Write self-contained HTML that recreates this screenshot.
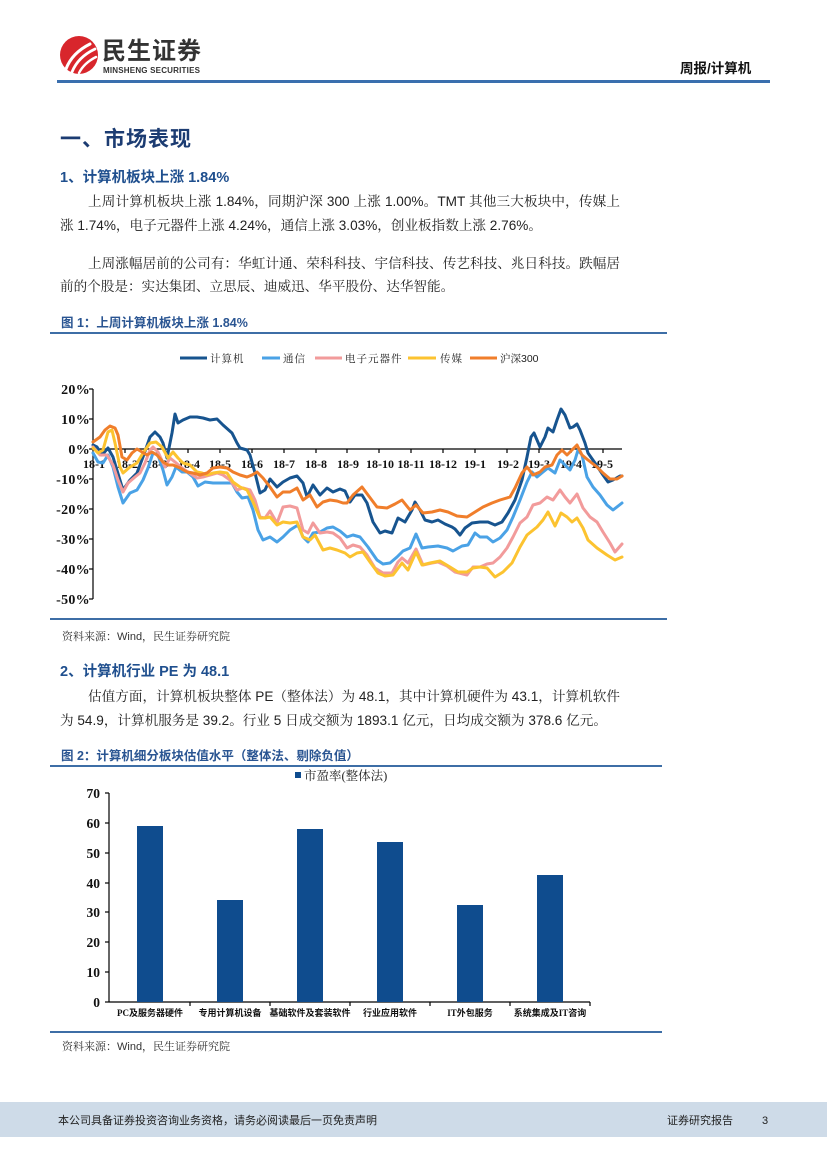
<!DOCTYPE html>
<html><head><meta charset="utf-8">
<style>
html,body{margin:0;padding:0;background:#fff;}
#pg{position:relative;width:827px;height:1169px;overflow:hidden;background:#fff;}
.t{position:absolute;white-space:nowrap;}
.body{font-family:"Liberation Sans","Noto Serif CJK SC",serif;font-size:13.6px;color:#222;line-height:20px;}
.just{text-align:justify;text-align-last:justify;white-space:normal;overflow:hidden;height:20px;}
.h{font-family:"Liberation Sans","Noto Sans CJK SC",sans-serif;font-weight:bold;}
.src{font-family:"Liberation Sans","Noto Serif CJK SC",serif;font-size:11px;color:#333;line-height:14px;}
</style></head><body>
<div id="pg">
<svg width="827" height="1169" viewBox="0 0 827 1169" style="position:absolute;left:0;top:0">
  <!-- header -->
  <circle cx="79" cy="55" r="19" fill="#d8262c"/>
  <path d="M66,69 Q72,53 90,44" stroke="#fff" stroke-width="3" fill="none" stroke-linecap="round"/>
  <path d="M72,72 Q78,57 95,49" stroke="#fff" stroke-width="2.8" fill="none" stroke-linecap="round"/>
  <path d="M79,73 Q84,63 96,57" stroke="#fff" stroke-width="2.4" fill="none" stroke-linecap="round"/>
  <rect x="57" y="80" width="713" height="3" fill="#3a6fae"/>

  <!-- chart1 separators -->
  <rect x="50" y="332" width="617" height="2" fill="#3d6ea6"/>
  <rect x="50" y="618" width="617" height="2" fill="#3d6ea6"/>
  <!-- chart2 separators -->
  <rect x="50" y="765" width="612" height="2" fill="#3d6ea6"/>
  <rect x="50" y="1031" width="612" height="2" fill="#3d6ea6"/>

  <!-- chart1 legend -->
  <g font-family="Liberation Sans, Noto Serif CJK SC, serif" font-size="10.5" fill="#222" letter-spacing="1">
    <line x1="180" y1="358" x2="207" y2="358" stroke="#17548f" stroke-width="3"/>
    <text x="210" y="362">计算机</text>
    <line x1="262" y1="358" x2="280" y2="358" stroke="#4aa2e6" stroke-width="3"/>
    <text x="283" y="362">通信</text>
    <line x1="315" y1="358" x2="342" y2="358" stroke="#f29b9b" stroke-width="3"/>
    <text x="345" y="362">电子元器件</text>
    <line x1="408" y1="358" x2="436" y2="358" stroke="#fcc330" stroke-width="3"/>
    <text x="440" y="362">传媒</text>
    <line x1="470" y1="358" x2="497" y2="358" stroke="#f07e2b" stroke-width="3"/>
    <text x="500" y="362" letter-spacing="0">沪深300</text>
  </g>

  <!-- chart1 axes -->
  <g stroke="#000" stroke-width="1.2">
    <line x1="93" y1="389" x2="93" y2="599"/>
    <line x1="89" y1="389" x2="93" y2="389"/>
    <line x1="89" y1="419" x2="93" y2="419"/>
    <line x1="89" y1="449" x2="93" y2="449"/>
    <line x1="89" y1="479" x2="93" y2="479"/>
    <line x1="89" y1="509" x2="93" y2="509"/>
    <line x1="89" y1="539" x2="93" y2="539"/>
    <line x1="89" y1="569" x2="93" y2="569"/>
    <line x1="89" y1="599" x2="93" y2="599"/>
    <line x1="93" y1="449" x2="622" y2="449"/>
    <line x1="125" y1="449" x2="125" y2="453"/><line x1="157" y1="449" x2="157" y2="453"/>
    <line x1="188" y1="449" x2="188" y2="453"/><line x1="220" y1="449" x2="220" y2="453"/>
    <line x1="252" y1="449" x2="252" y2="453"/><line x1="284" y1="449" x2="284" y2="453"/>
    <line x1="316" y1="449" x2="316" y2="453"/><line x1="347" y1="449" x2="347" y2="453"/>
    <line x1="379" y1="449" x2="379" y2="453"/><line x1="411" y1="449" x2="411" y2="453"/>
    <line x1="443" y1="449" x2="443" y2="453"/><line x1="475" y1="449" x2="475" y2="453"/>
    <line x1="507" y1="449" x2="507" y2="453"/><line x1="539" y1="449" x2="539" y2="453"/>
    <line x1="571" y1="449" x2="571" y2="453"/><line x1="603" y1="449" x2="603" y2="453"/>
  </g>
  <g font-family="Liberation Serif, serif" font-weight="bold" font-size="14" fill="#111" text-anchor="end" letter-spacing="0.3">
    <text x="90" y="394">20%</text>
    <text x="90" y="424">10%</text>
    <text x="90" y="454">0%</text>
    <text x="90" y="484">-10%</text>
    <text x="90" y="514">-20%</text>
    <text x="90" y="544">-30%</text>
    <text x="90" y="574">-40%</text>
    <text x="90" y="604">-50%</text>
  </g>
  <g font-family="Liberation Serif, serif" font-weight="bold" font-size="12" fill="#111" text-anchor="middle">
    <text x="94" y="468">18-1</text><text x="127" y="468">18-2</text><text x="157" y="468">18-3</text>
    <text x="189" y="468">18-4</text><text x="220" y="468">18-5</text><text x="252" y="468">18-6</text>
    <text x="284" y="468">18-7</text><text x="316" y="468">18-8</text><text x="348" y="468">18-9</text>
    <text x="380" y="468">18-10</text><text x="411" y="468">18-11</text><text x="443" y="468">18-12</text>
    <text x="475" y="468">19-1</text><text x="508" y="468">19-2</text><text x="539" y="468">19-3</text>
    <text x="571" y="468">19-4</text><text x="602" y="468">19-5</text>
  </g>

  <!-- chart1 series -->
  <g fill="none" stroke-width="3" stroke-linejoin="round" stroke-linecap="round">
    <polyline stroke="#17548f" points="93,445 97,447 102,455 108,448 113,457 123,490 130,480 137,473 143,457 150,437 155,432 160,437 163,443 167,458 172,433 175,414 178,423 183,420 190,417 197,417 203,418 210,420 217,419 223,425 232,433 237,443 240,448 247,450 250,455 255,473 260,493 265,490 270,479 277,487 283,482 290,478 297,476 303,483 307,497 313,485 320,495 327,488 333,492 340,489 345,491 350,502 355,495 362,495 367,503 373,522 380,533 385,531 392,533 398,518 405,522 412,510 415,502 420,510 425,520 432,522 438,520 445,524 452,527 455,529 460,535 465,528 472,523 480,522 488,522 495,525 502,522 508,513 515,500 522,480 527,457 531,437 534,433 540,447 545,437 548,428 553,432 557,420 561,409 565,415 570,428 573,427 577,424 580,430 585,443 588,453 595,463 603,475 608,482 613,480 620,476 622,476"/>
    <polyline stroke="#4aa2e6" points="93,453 98,462 103,463 108,455 113,467 118,487 123,503 130,493 137,490 143,480 148,468 153,453 158,455 163,470 167,485 172,477 176,467 182,472 187,472 193,477 198,486 205,482 213,483 223,483 232,483 237,492 242,498 248,497 253,510 258,530 263,540 270,537 277,542 283,537 290,530 298,525 303,537 308,542 313,533 320,532 327,528 333,527 340,531 347,537 353,535 360,537 368,547 377,560 383,564 390,563 397,557 403,551 410,548 416,534 422,548 428,547 438,546 447,548 453,551 462,546 468,545 475,533 480,537 487,537 493,542 500,538 507,530 513,517 520,500 527,482 532,472 537,477 543,472 548,468 555,473 560,460 563,463 570,470 575,460 578,450 582,455 587,477 593,487 600,495 607,505 613,510 622,503"/>
    <polyline stroke="#f29b9b" points="93,447 100,455 107,455 113,465 118,480 123,492 128,483 135,477 140,473 145,463 150,450 153,447 158,452 165,467 170,458 175,462 182,468 188,472 197,478 203,477 210,475 217,473 223,475 230,480 237,490 243,488 250,490 255,500 260,517 265,518 270,511 277,523 283,507 290,506 297,508 303,530 308,533 313,523 320,533 327,532 333,533 340,538 347,548 353,545 360,547 367,555 375,568 383,573 392,573 398,562 402,558 408,563 416,549 423,565 432,563 438,562 447,566 455,572 467,575 473,567 480,567 487,564 493,563 500,557 507,548 513,537 520,523 527,517 533,505 540,503 547,497 553,500 560,490 565,497 570,503 577,494 583,508 590,517 597,522 603,532 610,543 615,552 622,544"/>
    <polyline stroke="#fcc330" points="93,448 98,453 103,450 108,432 112,430 115,443 120,467 123,473 130,467 137,463 143,453 150,443 156,442 162,447 168,458 173,452 178,458 183,463 190,465 197,472 202,473 207,475 213,473 220,472 227,473 233,482 240,487 247,490 253,502 260,518 265,518 270,517 277,525 283,522 290,523 297,522 303,537 310,540 315,535 323,550 330,548 337,550 345,553 350,557 357,553 363,552 370,562 378,573 385,576 393,575 402,563 408,570 416,552 422,565 430,563 440,561 450,567 458,572 467,572 473,568 480,567 487,568 495,577 503,572 512,563 520,547 527,535 537,527 543,520 548,512 555,526 561,513 567,517 572,522 577,518 583,528 588,540 597,548 607,555 615,560 622,557"/>
    <polyline stroke="#f07e2b" points="93,442 100,437 105,430 110,426 115,428 118,435 122,457 127,460 132,453 137,449 142,452 147,455 152,452 157,455 163,462 168,465 173,465 180,468 187,472 193,473 200,475 207,473 213,468 220,467 227,468 233,472 240,475 247,477 252,475 257,472 263,478 270,487 277,497 283,492 290,492 297,488 303,500 310,495 317,507 323,502 330,500 337,501 343,503 347,503 353,495 362,487 368,495 377,507 387,508 395,504 402,500 410,510 416,505 423,513 432,512 440,510 448,512 457,516 467,517 475,512 483,507 492,503 500,500 510,497 515,488 522,473 527,467 533,475 540,472 545,467 552,465 557,455 562,450 567,455 572,450 577,445 582,455 588,460 597,467 603,473 610,479 617,479 622,476"/>
  </g>

  <!-- chart2 legend -->
  <rect x="295" y="772" width="6" height="6" fill="#0f4c8e"/>
  <text x="304" y="780" font-family="Liberation Serif, Noto Serif CJK SC, serif" font-size="12.5" fill="#222">市盈率(整体法)</text>

  <!-- chart2 axes -->
  <g stroke="#000" stroke-width="1.2">
    <line x1="109" y1="793" x2="109" y2="1002"/>
    <line x1="105" y1="793" x2="109" y2="793"/>
    <line x1="105" y1="823" x2="109" y2="823"/>
    <line x1="105" y1="853" x2="109" y2="853"/>
    <line x1="105" y1="883" x2="109" y2="883"/>
    <line x1="105" y1="912" x2="109" y2="912"/>
    <line x1="105" y1="942" x2="109" y2="942"/>
    <line x1="105" y1="972" x2="109" y2="972"/>
    <line x1="105" y1="1002" x2="109" y2="1002"/>
    <line x1="109" y1="1002" x2="590" y2="1002"/>
    <line x1="190" y1="1002" x2="190" y2="1006"/><line x1="270" y1="1002" x2="270" y2="1006"/>
    <line x1="350" y1="1002" x2="350" y2="1006"/><line x1="430" y1="1002" x2="430" y2="1006"/>
    <line x1="510" y1="1002" x2="510" y2="1006"/><line x1="590" y1="1002" x2="590" y2="1006"/>
  </g>
  <g font-family="Liberation Serif, serif" font-weight="bold" font-size="13.5" fill="#111" text-anchor="end">
    <text x="100" y="798">70</text><text x="100" y="828">60</text><text x="100" y="858">50</text>
    <text x="100" y="888">40</text><text x="100" y="917">30</text><text x="100" y="947">20</text>
    <text x="100" y="977">10</text><text x="100" y="1007">0</text>
  </g>
  <g fill="#0f4c8e">
    <rect x="137" y="826" width="26" height="176"/>
    <rect x="217" y="900" width="26" height="102"/>
    <rect x="297" y="829" width="26" height="173"/>
    <rect x="377" y="842" width="26" height="160"/>
    <rect x="457" y="905" width="26" height="97"/>
    <rect x="537" y="875" width="26" height="127"/>
  </g>
  <g font-family="Liberation Serif, Noto Sans CJK SC, sans-serif" font-weight="bold" font-size="9" fill="#111" text-anchor="middle">
    <text x="150" y="1016">PC及服务器硬件</text>
    <text x="230" y="1016">专用计算机设备</text>
    <text x="310" y="1016">基础软件及套装软件</text>
    <text x="390" y="1016">行业应用软件</text>
    <text x="470" y="1016">IT外包服务</text>
    <text x="550" y="1016">系统集成及IT咨询</text>
  </g>

  <!-- footer band -->
  <rect x="0" y="1102" width="827" height="35" fill="#cedbe8"/>
</svg>

<!-- header text -->
<div class="t h" style="left:102px;top:38px;font-size:24px;line-height:28px;color:#333;letter-spacing:1px;">民生证券</div>
<div class="t" style="left:103px;top:66px;font-family:'Liberation Sans',sans-serif;font-weight:bold;font-size:8px;line-height:10px;color:#333;letter-spacing:0.2px;">MINSHENG SECURITIES</div>
<div class="t h" style="left:680px;top:60px;font-size:13.5px;line-height:18px;color:#111;">周报/计算机</div>

<!-- section 1 -->
<div class="t h" style="left:60px;top:126px;font-size:21px;line-height:28px;color:#1c3c72;letter-spacing:1px;">一、市场表现</div>
<div class="t h" style="left:60px;top:168px;font-size:14.5px;line-height:20px;color:#1f4f8e;">1、计算机板块上涨 1.84%</div>

<div class="t body just" style="left:88px;top:192px;width:532px;">上周计算机板块上涨 1.84%，同期沪深 300 上涨 1.00%。TMT 其他三大板块中，传媒上</div>
<div class="t body" style="left:60px;top:216px;">涨 1.74%，电子元器件上涨 4.24%，通信上涨 3.03%，创业板指数上涨 2.76%。</div>
<div class="t body just" style="left:88px;top:254px;width:532px;">上周涨幅居前的公司有：华虹计通、荣科科技、宇信科技、传艺科技、兆日科技。跌幅居</div>
<div class="t body" style="left:60px;top:277px;">前的个股是：实达集团、立思辰、迪威迅、华平股份、达华智能。</div>

<div class="t h" style="left:61px;top:314px;font-size:12.5px;line-height:18px;color:#2a5592;">图 1：上周计算机板块上涨 1.84%</div>
<div class="t src" style="left:62px;top:630px;">资料来源：Wind，民生证券研究院</div>

<!-- section 2 -->
<div class="t h" style="left:60px;top:662px;font-size:14.5px;line-height:20px;color:#1f4f8e;">2、计算机行业 PE 为 48.1</div>
<div class="t body just" style="left:88px;top:687px;width:532px;">估值方面，计算机板块整体 PE（整体法）为 48.1，其中计算机硬件为 43.1，计算机软件</div>
<div class="t body" style="left:60px;top:711px;">为 54.9，计算机服务是 39.2。行业 5 日成交额为 1893.1 亿元，日均成交额为 378.6 亿元。</div>

<div class="t h" style="left:61px;top:747px;font-size:12.5px;line-height:18px;color:#2a5592;">图 2：计算机细分板块估值水平（整体法、剔除负值）</div>
<div class="t src" style="left:62px;top:1040px;">资料来源：Wind，民生证券研究院</div>

<!-- footer -->
<div class="t" style="left:58px;top:1113px;font-family:'Liberation Sans','Noto Sans CJK SC',sans-serif;font-size:11px;line-height:16px;color:#222;">本公司具备证券投资咨询业务资格，请务必阅读最后一页免责声明</div>
<div class="t" style="left:667px;top:1113px;font-family:'Liberation Sans','Noto Sans CJK SC',sans-serif;font-size:11px;line-height:16px;color:#222;">证券研究报告</div>
<div class="t" style="left:762px;top:1113px;font-family:'Liberation Sans',sans-serif;font-size:11px;line-height:16px;color:#222;">3</div>
</div>
</body></html>
